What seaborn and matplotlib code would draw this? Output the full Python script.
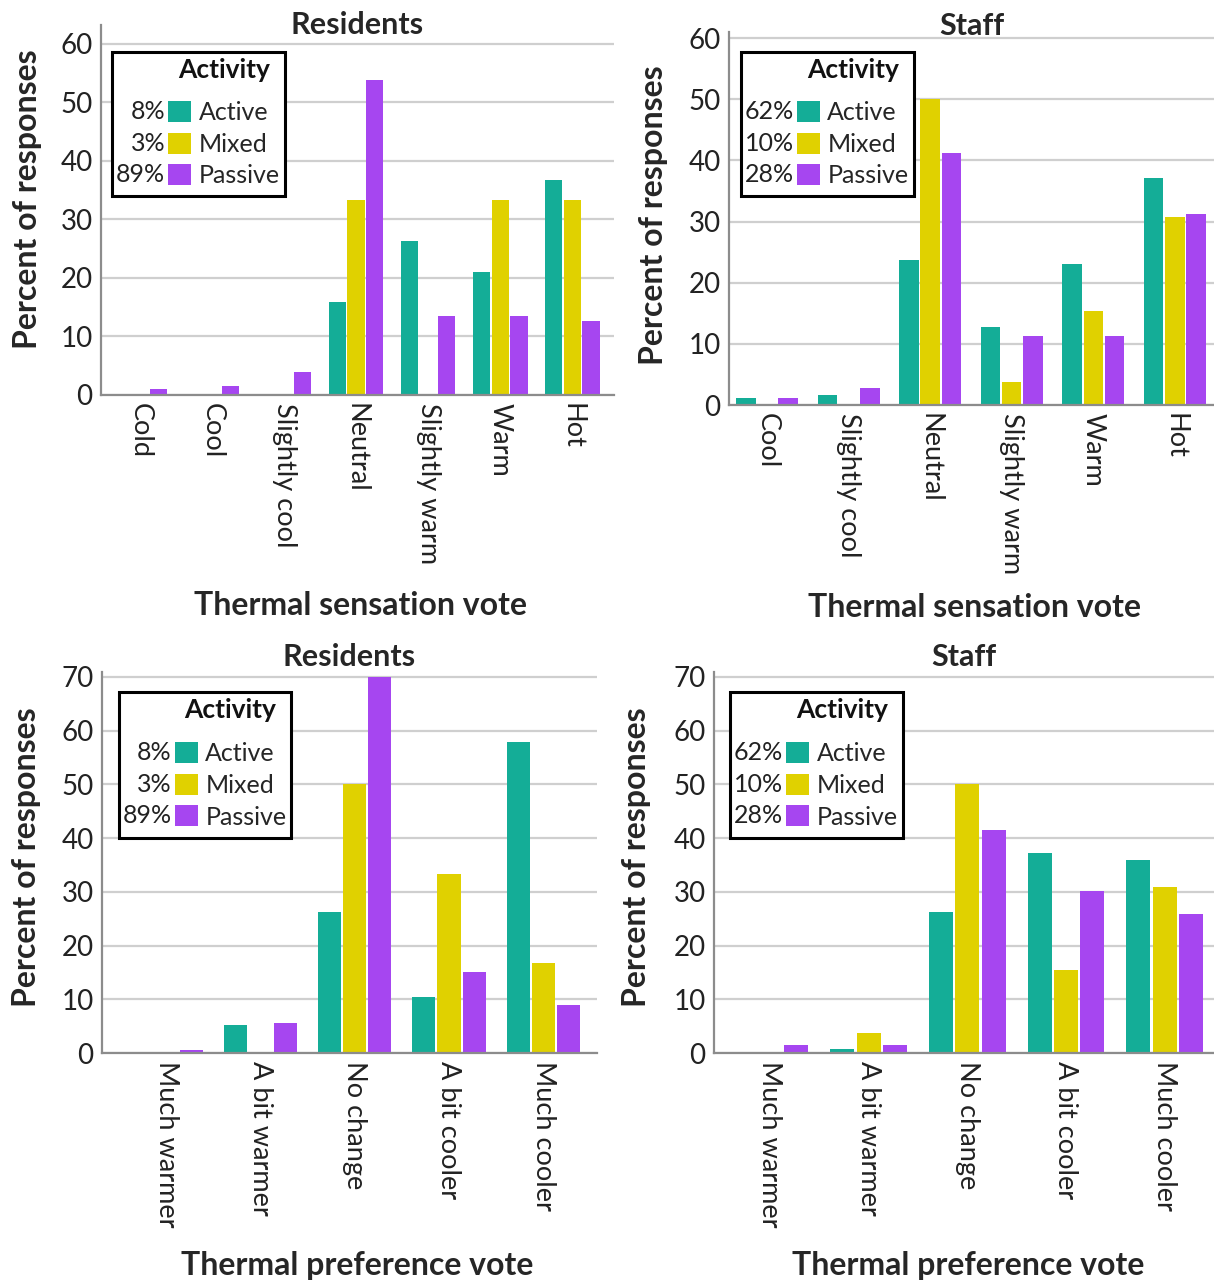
import matplotlib
matplotlib.use('Agg')
import pandas as pd
import matplotlib.pyplot as plt
import seaborn as sns
import numpy as np
from matplotlib.patches import Patch, Rectangle

# ---- data ----
groups = ["Active", "Mixed", "Passive"]

sens_res_cats = ["Cold", "Cool", "Slightly cool", "Neutral", "Slightly warm", "Warm", "Hot"]
res_sens_active = [0, 0, 0, 15.8, 26.3, 21.0, 36.8]
res_sens_mixed = [0, 0, 0, 33.3, 0, 33.3, 33.3]
res_sens_passive = [1.1, 1.6, 4.0, 53.8, 13.5, 13.5, 12.6]

sens_staff_cats = ["Cool", "Slightly cool", "Neutral", "Slightly warm", "Warm", "Hot"]
staff_sens_active = [1.1, 1.6, 23.7, 12.8, 23.1, 37.1]
staff_sens_mixed = [0, 0, 50.0, 3.8, 15.3, 30.7]
staff_sens_passive = [1.2, 2.7, 41.2, 11.3, 11.3, 31.3]

pref_cats = ["Much warmer", "A bit warmer", "No change", "A bit cooler", "Much cooler"]
res_pref_active = [0, 5.2, 26.3, 10.5, 57.9]
res_pref_mixed = [0, 0, 50.0, 33.3, 16.7]
res_pref_passive = [0.5, 5.5, 69.9, 15.1, 9.0]

staff_pref_active = [0, 0.7, 26.3, 37.2, 35.9]
staff_pref_mixed = [0, 3.8, 50.0, 15.4, 30.8]
staff_pref_passive = [1.4, 1.4, 41.5, 30.2, 25.8]

res_share = ["8%", "3%", "89%"]
staff_share = ["62%", "10%", "28%"]

colors = {"Active": "#14ad97", "Mixed": "#e0d100", "Passive": "#a646f0"}


def long_df(cats, active, mixed, passive):
    rows = []
    for g, vals in zip(groups, [active, mixed, passive]):
        for c, v in zip(cats, vals):
            rows.append({"cat": c, "Activity": g, "pct": v})
    return pd.DataFrame(rows)


sns.set_theme(style="white")
plt.rcParams['font.family'] = ['Lato', 'DejaVu Sans']

W, H = 1214, 1284
fig = plt.figure(figsize=(W / 100, H / 100), dpi=100)


def px_axes(left, right, top, bottom):
    return fig.add_axes([left / W, 1 - bottom / H, (right - left) / W, (bottom - top) / H])


panels = [
    dict(box=(101, 614, 25, 395), cats=sens_res_cats,
         vals=(res_sens_active, res_sens_mixed, res_sens_passive),
         title="Residents", xlabel="Thermal sensation vote", share=res_share,
         xlim=(-0.54, 6.58), ylim=63.2, yticks=range(0, 61, 10),
         title_y=1.0, xl=(0.505, -0.570), yl=(-0.144, 0.53),
         leg=(0.131, 0.795), leg_title=0.878, width=0.78),
    dict(box=(729, 1214, 32, 405), cats=sens_staff_cats,
         vals=(staff_sens_active, staff_sens_mixed, staff_sens_passive),
         title="Staff", xlabel="Thermal sensation vote", share=staff_share,
         xlim=(-0.466, 5.48), ylim=61.0, yticks=range(0, 61, 10),
         title_y=1.016, xl=(0.507, -0.542), yl=(-0.155, 0.51),
         leg=(0.140, 0.815), leg_title=0.898, width=0.78),
    dict(box=(102, 597, 672, 1053), cats=pref_cats,
         vals=(res_pref_active, res_pref_mixed, res_pref_passive),
         title="Residents", xlabel="Thermal preference vote", share=res_share,
         xlim=(-0.68, 4.57), ylim=70.9, yticks=range(0, 71, 10),
         title_y=1.039, xl=(0.515, -0.559), yl=(-0.152, 0.514),
         leg=(0.147, 0.816), leg_title=0.900, width=0.8),
    dict(box=(714, 1214, 672, 1053), cats=pref_cats,
         vals=(staff_pref_active, staff_pref_mixed, staff_pref_passive),
         title="Staff", xlabel="Thermal preference vote", share=staff_share,
         xlim=(-0.567, 4.5), ylim=70.9, yticks=range(0, 71, 10),
         title_y=1.039, xl=(0.508, -0.559), yl=(-0.156, 0.514),
         leg=(0.144, 0.816), leg_title=0.900, width=0.8),
]

legends = []
for p in panels:
    ax = px_axes(*p["box"])
    df = long_df(p["cats"], *p["vals"])
    sns.barplot(data=df, x="cat", y="pct", hue="Activity", order=p["cats"],
                hue_order=groups, palette=colors, saturation=1, width=p["width"],
                gap=0.08, legend=False, ax=ax, linewidth=0)
    ax.set_xlim(*p["xlim"])
    ax.set_ylim(0, p["ylim"])
    ax.set_yticks(list(p["yticks"]))
    ax.yaxis.grid(True, color="#cfcfcf", lw=1.6)
    ax.set_axisbelow(True)
    for s in ["top", "right"]:
        ax.spines[s].set_visible(False)
    for s in ["left", "bottom"]:
        ax.spines[s].set_color("#8c8c8c")
        ax.spines[s].set_linewidth(1.6)
    ax.tick_params(axis="both", length=0, pad=6)
    ax.tick_params(axis="y", labelsize=20, colors="#222222")
    ax.tick_params(axis="x", labelsize=19.5, labelrotation=270, colors="#222222")
    for lab in ax.get_xticklabels():
        lab.set_va("top")
        lab.set_ha("center")

    ax.set_title(p["title"], fontsize=22, fontweight="bold", y=p["title_y"], va="center", pad=0)
    ax.set_xlabel(p["xlabel"], fontsize=23, fontweight="bold", va="center")
    ax.xaxis.set_label_coords(*p["xl"])
    ax.set_ylabel("Percent of responses", fontsize=23, fontweight="bold", va="center")
    ax.yaxis.set_label_coords(*p["yl"])

    handles = [Patch(facecolor=colors[g], edgecolor="none") for g in groups]
    leg = ax.legend(handles, groups, loc="upper left",
                    bbox_to_anchor=p["leg"], frameon=False, fontsize=18,
                    handlelength=0.92, handleheight=0.92, handletextpad=0.3,
                    labelspacing=0.34, borderpad=0, borderaxespad=0)
    leg.set_zorder(6)
    legends.append((ax, leg, p))

fig.canvas.draw()
for ax, leg, p in legends:
    inv = ax.transAxes.inverted()
    pct_texts = []
    for h, s in zip(leg.legend_handles, p["share"]):
        bb = h.get_window_extent()
        x, y = inv.transform((bb.x0 - 3, (bb.y0 + bb.y1) / 2))
        t = ax.text(x, y, s, transform=ax.transAxes, ha="right", va="center",
                    fontsize=18, color="#222222", zorder=7)
        pct_texts.append(t)
    lb = leg.get_window_extent()
    cx = inv.transform(((lb.x0 + lb.x1) / 2, 0))[0]
    ttl = ax.text(cx, p["leg_title"], "Activity", transform=ax.transAxes,
                  ha="center", va="center", fontsize=19, fontweight="bold",
                  color="#111111", zorder=7)
    fig.canvas.draw()
    tb = ttl.get_window_extent()
    xmin = min(t.get_window_extent().x0 for t in pct_texts) - 4
    x0, y0 = inv.transform((xmin, lb.y0 - 9))
    x1, y1 = inv.transform((lb.x1 + 5, tb.y1 + 6))
    ax.add_patch(Rectangle((x0, y0), x1 - x0, y1 - y0, transform=ax.transAxes,
                           facecolor="white", edgecolor="black", lw=2.2, zorder=5,
                           clip_on=False))

fig.savefig("out.png", dpi=100)
